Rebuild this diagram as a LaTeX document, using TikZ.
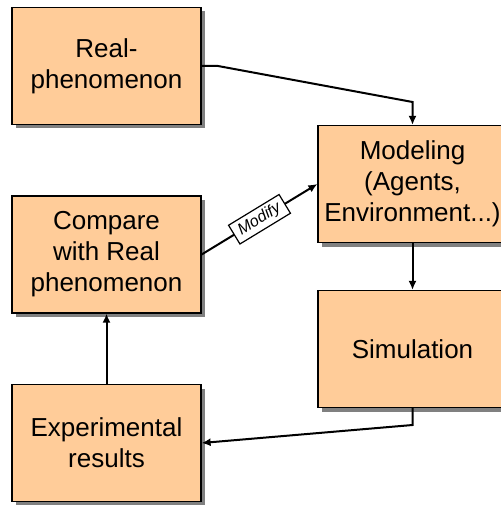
\documentclass[tikz,border=0pt]{standalone}
\usepackage{fontspec}
\setmainfont{Liberation Sans}
\usepackage{tikz}
\usetikzlibrary{arrows.meta,shadows}
\definecolor{peach}{HTML}{FFCC99}
\tikzset{>={Latex[length=9pt,width=8pt]}}
\tikzset{%
    stage/.style={%
        draw, line width=1.2pt, fill=peach, align=center,
        minimum width=189pt, minimum height=117pt, inner sep=0pt,
        font=\fontsize{26}{31}\selectfont,
        drop shadow={shadow xshift=4pt, shadow yshift=-4pt, fill=black!50, opacity=1}
    },
    flow/.style={->, line width=2pt}
}

\begin{document}
\begin{tikzpicture}[x=1pt,y=-1pt]
  \useasboundingbox (0,0) rectangle (500,505);
  \node[stage] (real) at (106.5,66) {Real-\\phenomenon};
  \node[stage] (model) at (412.5,184) {Modeling\\(Agents,\\Environment...)};
  \node[stage] (cmp) at (106.5,254.5) {Compare\\with Real\\phenomenon};
  \node[stage] (sim) at (412.5,349) {Simulation};
  \node[stage] (exp) at (106.5,443) {Experimental\\results};
  \coordinate (bendA) at (218,66);
  \coordinate (bendB) at (412.5,102);
  \coordinate (bendC) at (412.5,425);
  \draw[flow] (real.east) -- (bendA) -- (bendB) -- (model.north);
  \draw[flow] (model.south) -- (sim.north);
  \draw[flow] (sim.south) -- (bendC) -- (exp.east);
  \draw[flow] (exp.north) -- (cmp.south);
  \draw[flow] (cmp.east) -- node[sloped, draw, fill=white, line width=1.2pt, inner xsep=6pt, inner ysep=3.5pt,
    font=\fontsize{16}{18}\selectfont\itshape] (mod) {Modify} (model.west);
\end{tikzpicture}
\end{document}
